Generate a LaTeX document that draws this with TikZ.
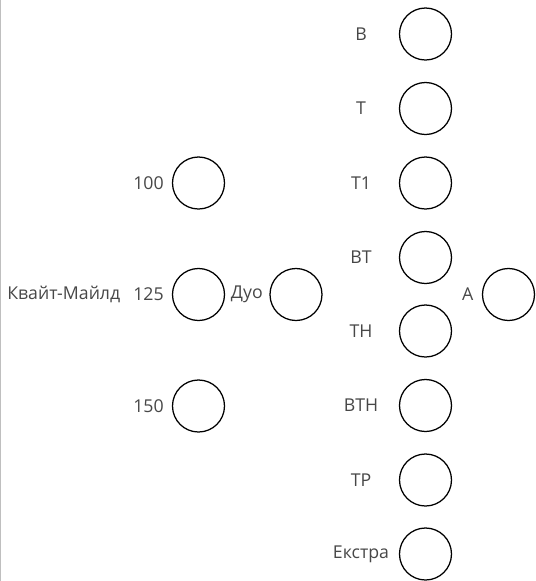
\documentclass[tikz,border=0pt]{standalone}
\usepackage{fontspec}
\setmainfont{Open Sans}
\usepackage{tikz}
\usetikzlibrary{positioning}

\tikzset{
  slot/.style={draw, circle, minimum size=1.3cm, inner sep=0pt, line width=0.9pt},
  tag/.style={font=\fontsize{12.6}{14}\selectfont, text=black!72, inner sep=0pt}
}

\begin{document}
\begin{tikzpicture}[x=0.025cm, y=-0.025cm]
    \useasboundingbox (0,0) rectangle (536,581);
    \draw[black!25, line width=0.8pt] (0.5,0) -- (0.5,581);
    % left column
    \node[slot] (S100) at (198.5,183) {};
    \node[slot] (S125) at (198.5,294.5) {};
    \node[slot] (S150) at (198.5,406) {};
    \node[tag, anchor=east] (L100) at (164,183) {100};
    \node[tag, anchor=east] (L125) at (164,294.5) {125};
    \node[tag, anchor=east] (L150) at (164,406) {150};
    \node[tag, anchor=west] (Quite) at (7,294.5) {Квайт-Майлд};
    \node[slot] (Duo) at (296,294.5) {};
    \node[tag, anchor=east] (LDuo) at (263,294.5) {Дуо};
    % right column
    \node[slot] (SV) at (425.5,34) {};
    \node[slot] (ST) at (425.5,108.5) {};
    \node[slot] (ST1) at (425.5,183) {};
    \node[slot] (SVT) at (425.5,257.5) {};
    \node[slot] (STN) at (425.5,331) {};
    \node[slot] (SVTN) at (425.5,405.5) {};
    \node[slot] (STR) at (425.5,480) {};
    \node[slot] (SEx) at (425.5,554) {};
    \node[tag] (LV) at (361,34) {В};
    \node[tag] (LT) at (361,108.5) {Т};
    \node[tag] (LT1) at (361,183) {Т1};
    \node[tag] (LVT) at (361,257.5) {ВТ};
    \node[tag] (LTN) at (361,331) {ТН};
    \node[tag] (LVTN) at (361,405.5) {ВТН};
    \node[tag] (LTR) at (361,480) {ТР};
    \node[tag] (LEx) at (361,554) {Екстра};
    \node[slot] (SA) at (508.5,294.5) {};
    \node[tag, anchor=east] (LA) at (473.5,294.5) {А};
\end{tikzpicture}
\end{document}
